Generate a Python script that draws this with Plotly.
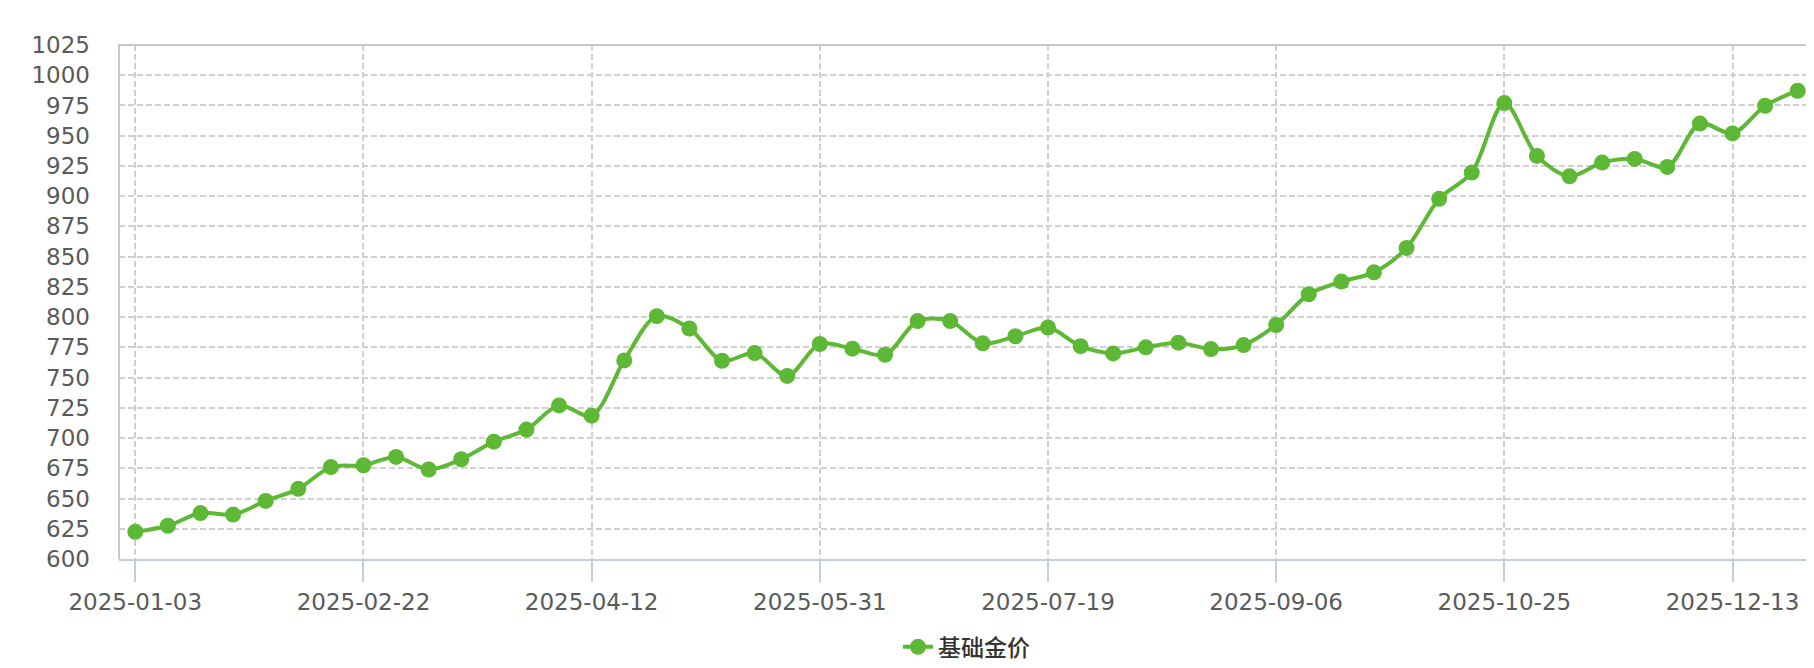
import plotly.graph_objects as go

# weekly dates (category axis)
dates = [
    "2025-01-03", "2025-01-11", "2025-01-18", "2025-01-25", "2025-02-01", "2025-02-08", "2025-02-15",
    "2025-02-22", "2025-03-01", "2025-03-08", "2025-03-15", "2025-03-22", "2025-03-29", "2025-04-05",
    "2025-04-12", "2025-04-19", "2025-04-26", "2025-05-03", "2025-05-10", "2025-05-17", "2025-05-24",
    "2025-05-31", "2025-06-07", "2025-06-14", "2025-06-21", "2025-06-28", "2025-07-05", "2025-07-12",
    "2025-07-19", "2025-07-26", "2025-08-02", "2025-08-09", "2025-08-16", "2025-08-23", "2025-08-30",
    "2025-09-06", "2025-09-13", "2025-09-20", "2025-09-27", "2025-10-04", "2025-10-11", "2025-10-18",
    "2025-10-25", "2025-11-01", "2025-11-08", "2025-11-15", "2025-11-22", "2025-11-29", "2025-12-06",
    "2025-12-13", "2025-12-20", "2025-12-27",
]

# 基础金价
gold_price = [
    622.5, 627.5, 638, 636.7, 648, 658, 676,
    677.5, 684.4, 674, 682.5, 697, 707, 727,
    718.5, 764.2, 800.8, 790.6, 763.9, 770.3, 751.4,
    777.8, 773.9, 768.9, 796.7, 796.7, 778.3, 784.2,
    791.4, 776, 770, 775, 778.9, 773.6, 776.9,
    793.5, 818.9, 829.4, 837, 857.2, 897.8, 919.5,
    977, 933.3, 916.4, 927.8, 930.8, 924.2, 960,
    951.9, 974.7, 987.2,
]

tick_dates = dates[::7]

green = "#5DB836"
grid = "#d0d0d0"

fig = go.Figure()
fig.add_trace(go.Scatter(
    x=dates, y=gold_price,
    name="基础金价",
    mode="lines+markers",
    line=dict(color=green, width=4, shape="spline", smoothing=0.9),
    marker=dict(color=green, size=16),
))

# border on left / top / right (bottom is the x axis line)
fig.add_shape(type="path", xref="paper", yref="paper",
              path="M 0,0 L 0,1 L 1,1 L 1,0",
              line=dict(color="#c8c8c8", width=2), layer="above")

fig.update_xaxes(
    type="category",
    range=[-0.5, len(dates) - 0.5],
    tickmode="array", tickvals=tick_dates, ticktext=tick_dates,
    ticks="outside", ticklen=21, tickwidth=2, tickcolor="#c3cddb",
    showline=True, linecolor="#c3cddb", linewidth=2,
    showgrid=True, gridcolor=grid, gridwidth=2, griddash="6px,3px",
    tickfont=dict(family="DejaVu Sans", size=23, color="#5a5a5a"),
    zeroline=False,
)
fig.update_yaxes(
    range=[600, 1025], dtick=25, tick0=600,
    showgrid=True, gridcolor=grid, gridwidth=2, griddash="6px,3px",
    ticks="", ticklabelstandoff=28,
    tickfont=dict(family="DejaVu Sans", size=23, color="#5a5a5a"),
    showline=False, zeroline=False,
)

fig.update_layout(
    width=1814, height=668,
    margin=dict(l=111, r=8, t=37, b=114),
    paper_bgcolor="white", plot_bgcolor="white",
    showlegend=True,
    legend=dict(orientation="h", x=0.5, xanchor="center", y=-0.171, yanchor="middle",
                font=dict(family="Noto Sans CJK SC", size=23, color="#333333", weight=500),
                itemwidth=30),
)

fig.write_html("out.html")
